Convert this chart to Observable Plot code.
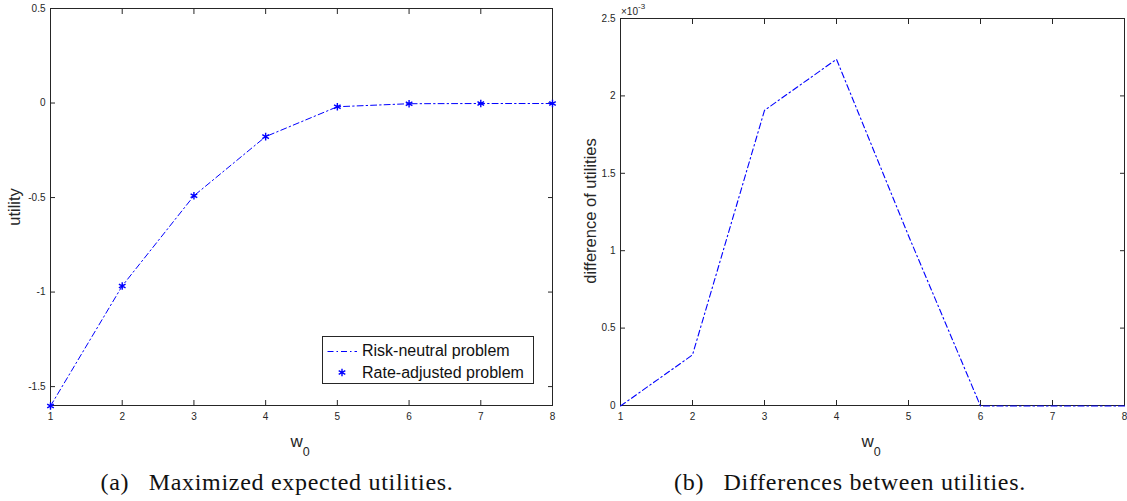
<!DOCTYPE html>
<html><head><meta charset="utf-8">
<script src="https://cdn.jsdelivr.net/npm/d3@7"></script>
<script src="https://cdn.jsdelivr.net/npm/@observablehq/plot@0.6"></script>
<style>
body{margin:0;background:#fff;}
#wrap{position:relative;width:1127px;height:501px;overflow:hidden;background:#fff;}
.panel{position:absolute;top:0;}
.cap{position:absolute;top:466px;font-family:"Liberation Serif","Times New Roman",serif;font-size:24px;letter-spacing:0.7px;line-height:32px;color:#111;white-space:pre;transform:translateX(-50%);}
</style></head>
<body><div id="wrap"></div>
<script>
// ---- data ----
const w0 = [1, 2, 3, 4, 5, 6, 7, 8];
const riskNeutral  = [-1.6, -0.965, -0.488, -0.175, -0.017, -0.001, 0, 0];
const rateAdjusted = [-1.6, -0.965, -0.488, -0.175, -0.017, -0.001, 0, 0];
const diffE3 = [0, 0.33, 1.91, 2.24, 1.1, 0, 0, 0];   // difference of utilities, x 10^-3
const xTicks = [1, 2, 3, 4, 5, 6, 7, 8];
const yTicksA = [-1.5, -1, -0.5, 0, 0.5];
const yTicksB = [0, 0.5, 1, 1.5, 2, 2.5];
const seriesNames = ["Risk-neutral problem", "Rate-adjusted problem"];
const captions = ["(a)\u2002 Maximized expected utilities.", "(b)\u2002 Differences between utilities."];

const tableA = w0.map((w, i) => ({w, rn: riskNeutral[i], ra: rateAdjusted[i]}));
const tableB = w0.map((w, i) => ({w, d: diffE3[i]}));

const BLUE = "#0000ff";
const AX = "#262626";
const DASH = "6,3,1.5,3";
const FONT = "'Liberation Sans', Arial, sans-serif";
const fmt = d => String(d);

function panel({width, mL, mR, mT, mB, yDomain, yTicks, marks}) {
  return Plot.plot({
    width, height: 450,
    marginLeft: mL, marginRight: mR, marginTop: mT, marginBottom: mB,
    style: {fontFamily: FONT, fontSize: "10px", color: AX, background: "transparent", overflow: "visible"},
    x: {domain: [1, 8]},
    y: {domain: yDomain},
    marks: [
      Plot.frame({stroke: AX, strokeWidth: 1}),
      Plot.axisX(xTicks, {anchor: "bottom", tickSize: -5, tickPadding: 12, tickFormat: fmt, label: null}),
      Plot.axisX(xTicks, {anchor: "top", tickSize: -5, tickFormat: () => "", label: null}),
      Plot.axisY(yTicks, {anchor: "left", tickSize: -5, tickPadding: 10, tickFormat: fmt, label: null}),
      Plot.axisY(yTicks, {anchor: "right", tickSize: -5, tickFormat: () => "", label: null}),
      ...marks
    ]
  });
}

const wrap = d3.select("#wrap");

// ---- panel (a) ----
const A = {width: 565, mL: 50, mR: 13, mT: 8, mB: 45};
const svgA = panel({
  ...A, yDomain: [-1.6, 0.5], yTicks: yTicksA,
  marks: [
    Plot.line(tableA, {x: "w", y: "rn", stroke: BLUE, strokeWidth: 1, strokeDasharray: DASH, dy: 0.5}),
    Plot.dot(tableA, {x: "w", y: "ra", symbol: "asterisk", r: 3.6, stroke: BLUE, strokeWidth: 1.4, dy: 0.5})
  ]
});
const divA = wrap.append("div").attr("class", "panel").style("left", "0px");
divA.node().appendChild(svgA);

// ---- panel (b) ----
const B = {width: 562, mL: 55, mR: 3, mT: 18, mB: 45};
const svgB = panel({
  ...B, yDomain: [0, 2.5], yTicks: yTicksB,
  marks: [
    Plot.line(tableB, {x: "w", y: "d", stroke: BLUE, strokeWidth: 1.1, strokeDasharray: DASH, dy: 0.5})
  ]
});
const divB = wrap.append("div").attr("class", "panel").style("left", "565px");
divB.node().appendChild(svgB);

// ---- axis labels ----
function labels(svgNode, cfg, ylab, ylabX, ylabY) {
  const s = d3.select(svgNode);
  const cx = (cfg.mL + cfg.width - cfg.mR) / 2 - 1;
  const t = s.append("text").attr("x", cx).attr("y", 447).attr("text-anchor", "middle")
    .attr("font-size", 17).attr("fill", AX).attr("font-family", FONT);
  t.append("tspan").text("w");
  t.append("tspan").attr("dy", 9).attr("font-size", 12.5).text("0");
  s.append("text").attr("transform", `translate(${ylabX},${ylabY}) rotate(-90)`)
    .attr("text-anchor", "middle").attr("font-size", 16.5).attr("fill", AX)
    .attr("font-family", FONT).text(ylab);
}
labels(svgA, A, "utility", 20, 207);
labels(svgB, B, "difference of utilities", 31, 211);

// exponent label for panel (b)
{
  const s = d3.select(svgB);
  const t = s.append("text").attr("x", B.mL + 1).attr("y", 14.5).attr("text-anchor", "start")
    .attr("font-size", 10).attr("fill", AX).attr("font-family", FONT);
  t.append("tspan").text("\u00d710");
  t.append("tspan").attr("dy", -6).attr("font-size", 8).text("-3");
}

// ---- legend (panel a) ----
{
  const s = d3.select(svgA);
  const g = s.append("g").attr("font-family", FONT).attr("font-size", 16).attr("text-anchor", "start");
  g.append("rect").attr("x", 322.5).attr("y", 336.5).attr("width", 211).attr("height", 47)
    .attr("fill", "#fff").attr("stroke", AX).attr("stroke-width", 1);
  g.append("line").attr("x1", 327.5).attr("x2", 357).attr("y1", 351.5).attr("y2", 351.5)
    .attr("stroke", BLUE).attr("stroke-width", 1).attr("stroke-dasharray", DASH);
  g.append("path").attr("d", d3.symbol(d3.symbolAsterisk, 3.6 * 3.6 * Math.PI)())
    .attr("transform", "translate(342,372.5)").attr("fill", "none").attr("stroke", BLUE).attr("stroke-width", 1.4);
  g.append("text").attr("x", 362).attr("y", 356).attr("text-anchor", "start").attr("fill", "#111").text(seriesNames[0]);
  g.append("text").attr("x", 362).attr("y", 377.5).attr("text-anchor", "start").attr("fill", "#111").text(seriesNames[1]);
}

// ---- captions ----
wrap.append("div").attr("class", "cap").style("left", "277px").text(captions[0]);
wrap.append("div").attr("class", "cap").style("left", "850px").text(captions[1]);
</script>
</body></html>
